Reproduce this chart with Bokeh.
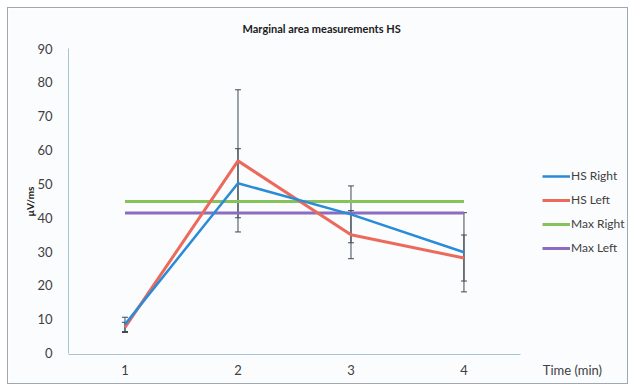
from bokeh.plotting import figure
from bokeh.models import (ColumnDataSource, Range1d, FixedTicker, Whisker, TeeHead,
                          Legend, LegendItem, LinearAxis)
from bokeh.embed import file_html
from bokeh.resources import INLINE

# ---- data ----
time = [1, 2, 3, 4]
hs_right = [8.5, 50.2, 41.0, 29.8]
hs_right_err = [2.1, 10.2, 8.4, 11.7]
hs_left = [7.6, 56.8, 35.0, 28.1]
hs_left_err = [1.5, 21.0, 7.1, 6.8]
max_right = 44.8
max_left = 41.4
y_ticks = [0, 10, 20, 30, 40, 50, 60, 70, 80, 90]
x_tick_labels = ["1", "2", "3", "4"]
title_text = "Marginal area measurements HS"
y_label = "µV/ms"
x_label = "Time (min)"
x_label_pos = 4.96
series_names = ["HS Right", "HS Left", "Max Right", "Max Left"]

FONT = "Lato"
BLUE = "#2a8bd6"
RED = "#ec6a5c"
GREEN = "#86c35a"
PURPLE = "#8a6cc0"
AXIS = "#a9c3d6"
TXT = "#404040"

p = figure(width=621, height=377, output_backend="svg", toolbar_location=None,
           x_range=Range1d(0.5, 5.465), y_range=Range1d(-0.4, 90),
           min_border_left=60, min_border_right=0, min_border_top=40, min_border_bottom=31,
           background_fill_color="#fbfcfd", border_fill_color="#fbfcfd")
p.styles = {"border": "1px solid #9ea8b0", "margin": "7px 0 0 7px"}
p.outline_line_color = None
p.grid.visible = False

p.title.text = title_text
p.title.align = "left"
p.title.offset = 174
p.title.vertical_align = "top"
p.title.standoff = 24
p.title.text_font = FONT
p.title.text_font_size = "11px"
p.title.text_font_style = "bold"
p.title.text_color = "#202020"

# x axis: labels (no line) + a separate line-only axis limited to the category span
xa = p.xaxis[0]
ticks = time + [x_label_pos]
overrides = {t: s for t, s in zip(time, x_tick_labels)}
overrides[x_label_pos] = x_label
xa.ticker = FixedTicker(ticks=ticks)
xa.major_label_overrides = overrides
xa.axis_line_color = None
xa.major_tick_line_color = None
xa.minor_tick_line_color = None
xa.major_tick_out = 0
xa.major_label_text_font = FONT
xa.major_label_text_font_size = "13px"
xa.major_label_text_color = TXT
xa.major_label_standoff = 7

line_axis = LinearAxis(bounds=(time[0] - 0.5, time[-1] + 0.5), ticker=FixedTicker(ticks=[]),
                       axis_line_color=AXIS, major_tick_line_color=None,
                       minor_tick_line_color=None, major_tick_out=0, major_tick_in=0,
                       major_label_text_font_size="0px", major_label_standoff=0)
p.below.insert(0, line_axis)

ya = p.yaxis[0]
ya.ticker = FixedTicker(ticks=y_ticks)
ya.bounds = (y_ticks[0], y_ticks[-1])
ya.axis_line_color = AXIS
ya.major_tick_line_color = None
ya.minor_tick_line_color = None
ya.major_label_text_font = FONT
ya.major_label_text_font_size = "13px"
ya.major_label_text_color = TXT
ya.major_label_standoff = 10
ya.axis_label = y_label
ya.axis_label_text_font = FONT
ya.axis_label_text_font_size = "10px"
ya.axis_label_text_font_style = "bold"
ya.axis_label_text_color = "#202020"
ya.axis_label_standoff = -2

# series
src = ColumnDataSource(dict(
    x=time,
    r=hs_right, r_lo=[v - e for v, e in zip(hs_right, hs_right_err)],
    r_hi=[v + e for v, e in zip(hs_right, hs_right_err)],
    l=hs_left, l_lo=[v - e for v, e in zip(hs_left, hs_left_err)],
    l_hi=[v + e for v, e in zip(hs_left, hs_left_err)],
))

x0, x1 = time[0], time[-1]
g_mr = p.line([x0, x1], [max_right, max_right], line_color=GREEN, line_width=3)
g_ml = p.line([x0, x1], [max_left, max_left], line_color=PURPLE, line_width=3)
g_l = p.line("x", "l", source=src, line_color=RED, line_width=3)
g_r = p.line("x", "r", source=src, line_color=BLUE, line_width=2.5)

for lo, hi in (("l_lo", "l_hi"), ("r_lo", "r_hi")):
    w = Whisker(source=src, base="x", lower=lo, upper=hi, line_color="#3d4a52", line_width=1,
                upper_head=TeeHead(size=6, line_color="#3d4a52", line_width=1),
                lower_head=TeeHead(size=6, line_color="#3d4a52", line_width=1))
    p.add_layout(w)

legend = Legend(items=[LegendItem(label=series_names[0], renderers=[g_r]),
                       LegendItem(label=series_names[1], renderers=[g_l]),
                       LegendItem(label=series_names[2], renderers=[g_mr]),
                       LegendItem(label=series_names[3], renderers=[g_ml])],
                location=(474, 99), orientation="vertical",
                background_fill_alpha=0, border_line_color=None,
                padding=0, margin=0, spacing=9, label_standoff=1,
                glyph_width=28, glyph_height=12, label_height=12,
                label_text_font=FONT, label_text_font_size="12px", label_text_color=TXT)
p.add_layout(legend)

open("out.html", "w").write(file_html(p, INLINE))
